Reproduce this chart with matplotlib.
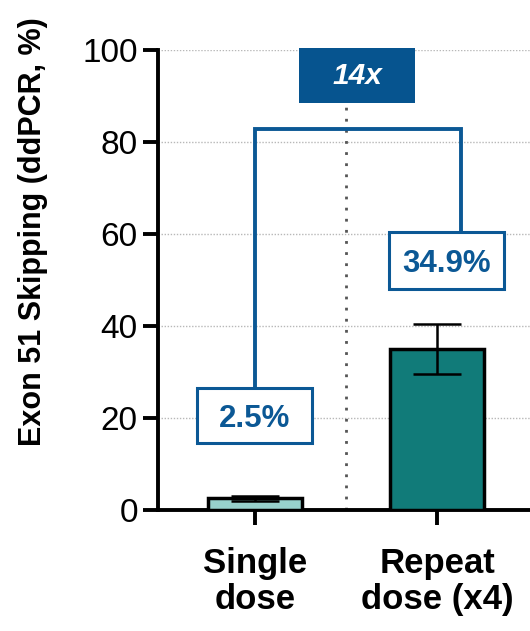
import matplotlib

matplotlib.use("Agg")
import matplotlib.pyplot as plt
from matplotlib.patches import Rectangle

plt.rcParams["font.family"] = ["Liberation Sans", "DejaVu Sans"]

# data
categories = ["Single\ndose", "Repeat\ndose (x4)"]
means = [2.5, 34.9]
errors = [0.5, 5.4]
bar_colors = ["#97D1CC", "#117B79"]
value_labels = ["2.5%", "34.9%"]
fold_label = "14x"
y_ticks = [0, 20, 40, 60, 80, 100]

BLUE = "#0B5895"
DARK_BLUE = "#06548F"

fig = plt.figure(figsize=(5.30, 6.31), dpi=100)
ax = fig.add_axes([0.298, 0.192, 0.702, 0.729])

x = list(range(len(categories)))
ax.bar(x, means, width=0.52, color=bar_colors, edgecolor="black", linewidth=2.5, zorder=3)
ax.errorbar(x, means, yerr=errors, fmt="none", ecolor="black", elinewidth=1.8,
            capsize=17, capthick=1.8, zorder=4)

ax.set_xlim(-0.533, 1.51)
ax.set_ylim(0, 100)
ax.set_yticks(y_ticks)
ax.set_xticks(x)
ax.set_xticklabels(categories, fontsize=25, fontweight="bold", linespacing=1.12)
ax.tick_params(axis="y", labelsize=24, width=2.8, length=11, pad=3.5)
ax.tick_params(axis="x", width=2.8, length=11, pad=16)

for s in ["top", "right"]:
    ax.spines[s].set_visible(False)
for s in ["left", "bottom"]:
    ax.spines[s].set_linewidth(2.8)

fig.text(33 / 530, 1 - 232 / 631, "Exon 51 Skipping (ddPCR, %)", rotation=90,
         ha="center", va="center", fontsize=22, fontweight="bold")

# dotted grid and midline
for yv in y_ticks[1:]:
    ax.axhline(yv, color="#B8B8B8", linestyle=(0, (1, 1.2)), linewidth=1.0, zorder=0)
ax.plot([0.5, 0.5], [0, 88.5], color="#555555", linestyle=(0, (1, 3)), linewidth=2.0, zorder=1)

# bracket
ax.plot([0.0, 0.0, 1.13, 1.13], [26.5, 82.8, 82.8, 60.4], color=BLUE, linewidth=2.8,
        solid_joinstyle="miter", zorder=5)

# value boxes
boxes = [(-0.319, 14.6, 0.632, 11.9), (0.736, 48.0, 0.632, 12.4)]
for (bx, by, bw, bh), lab in zip(boxes, value_labels):
    ax.add_patch(Rectangle((bx, by), bw, bh, facecolor="white", edgecolor=BLUE,
                           linewidth=2.2, zorder=6, clip_on=False))
    ax.text(bx + bw / 2, by + bh / 2 - 0.8, lab, ha="center", va="center", fontsize=22.5,
            fontweight="bold", color=BLUE, zorder=7)

ax.add_patch(Rectangle((0.242, 88.5), 0.637, 11.9, facecolor=DARK_BLUE, edgecolor="none",
                       zorder=6, clip_on=False))
ax.text(0.56, 94.4, fold_label, ha="center", va="center", fontsize=21.5, fontweight="bold",
        fontstyle="italic", color="white", zorder=7)

fig.savefig("out.png", dpi=100)
